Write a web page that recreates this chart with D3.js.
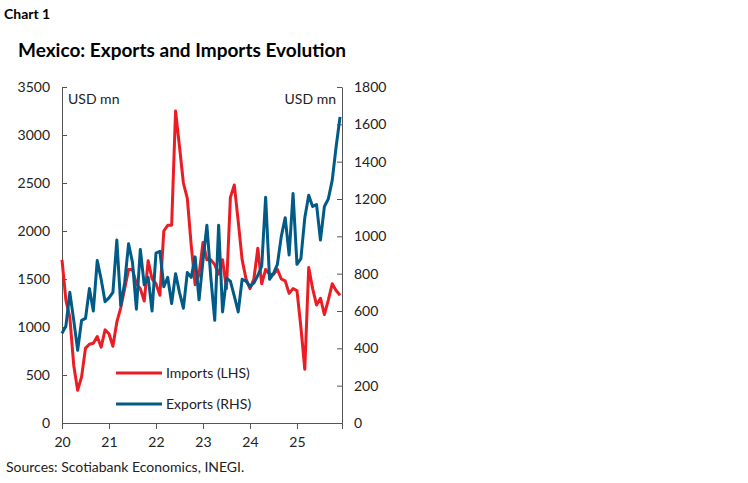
<!DOCTYPE html><html><head><meta charset="utf-8"><script src="https://cdn.jsdelivr.net/npm/d3@7"></script>
<style>body{margin:0;background:#fff;font-family:Lato,"Open Sans",sans-serif}</style></head><body><svg id="c" width="748" height="483"></svg>
<script>
const imports=[1700,1280,1100,600,340,480,780,820,830,900,790,970,
930,800,1050,1200,1400,1600,1600,1450,1400,1270,1690,1500,
1450,1330,2000,2060,2060,3250,2880,2500,2340,1850,1440,1550,
1880,1700,1700,1650,1550,1700,1400,2350,2480,2100,1700,1500,
1400,1500,1820,1450,1600,1550,1550,1600,1500,1480,1350,1400,
1380,1000,560,1620,1400,1230,1300,1130,1280,1450,1380,1330];
const exports_=[480,520,700,550,390,550,560,720,600,870,770,650,
670,700,980,630,750,960,860,610,930,740,780,600,
910,920,730,780,640,800,700,615,806,780,890,660,
870,1060,780,550,1060,595,775,760,680,595,770,760,
730,750,790,840,1210,770,800,850,1000,1100,900,1230,
850,880,1100,1220,1160,1170,980,1160,1200,1300,1480,1640];
const yearLabels=["20","21","22","23","24","25"];
const leftTicks=[0,500,1000,1500,2000,2500,3000,3500];
const rightTicks=[0,200,400,600,800,1000,1200,1400,1600,1800];
const svg=d3.select("#c");
const L=62,R=342,T=87,B=423;
const x=d3.scaleLinear().domain([0,71.5]).range([L,R]);
const yl=d3.scaleLinear().domain([0,3500]).range([B,T]);
const yr=d3.scaleLinear().domain([0,1800]).range([B,T]);
svg.append("text").attr("x",4).attr("y",19).attr("font-size",14).attr("font-weight","bold").text("Chart 1");
svg.append("text").attr("x",18).attr("y",57).attr("font-size",19).attr("font-weight","bold").text("Mexico: Exports and Imports Evolution");
const ax=svg.append("g").attr("transform",`translate(0,${B})`).call(d3.axisBottom(x).tickValues(d3.range(0,61,12)).tickFormat((d,i)=>yearLabels[i]||"").tickSizeOuter(0).tickSize(6));
const ayl=svg.append("g").attr("transform",`translate(${L},0)`).call(d3.axisLeft(yl).tickValues(leftTicks).tickFormat(d3.format("")).tickSize(-5).tickSizeOuter(0));
const ayr=svg.append("g").attr("transform",`translate(${R},0)`).call(d3.axisRight(yr).tickValues(rightTicks).tickFormat(d3.format("")).tickSize(-5).tickSizeOuter(0));
[ax,ayl,ayr].forEach(g=>{g.selectAll("path,line").attr("stroke","#555");g.selectAll("text").attr("font-size",14).attr("fill","#222").attr("font-family","Lato,sans-serif");});
ayl.selectAll("text").attr("x",-12);ayr.selectAll("text").attr("x",12);
ax.selectAll("text").attr("dy","1.1em");
svg.append("text").attr("x",68).attr("y",104).attr("font-size",14).attr("fill","#222").text("USD mn");
svg.append("text").attr("x",336).attr("y",104).attr("font-size",14).attr("fill","#222").attr("text-anchor","end").text("USD mn");
const line=(arr,y)=>d3.line().x((d,i)=>x(i)).y(d=>y(d))(arr);
svg.append("path").attr("d",line(imports,yl)).attr("fill","none").attr("stroke","#ec1c24").attr("stroke-width",3).attr("stroke-linejoin","round");
svg.append("path").attr("d",line(exports_,yr)).attr("fill","none").attr("stroke","#005b86").attr("stroke-width",3).attr("stroke-linejoin","round");
[["Imports (LHS)","#ec1c24",373],["Exports (RHS)","#005b86",404]].forEach(([t,c,yy])=>{
svg.append("line").attr("x1",116).attr("x2",162).attr("y1",yy).attr("y2",yy).attr("stroke",c).attr("stroke-width",3);
svg.append("text").attr("x",166).attr("y",yy+5).attr("font-size",14).attr("fill","#222").text(t);});
svg.append("text").attr("x",6).attr("y",472).attr("font-size",14).attr("fill","#222").text("Sources: Scotiabank Economics, INEGI.");
</script></body></html>
